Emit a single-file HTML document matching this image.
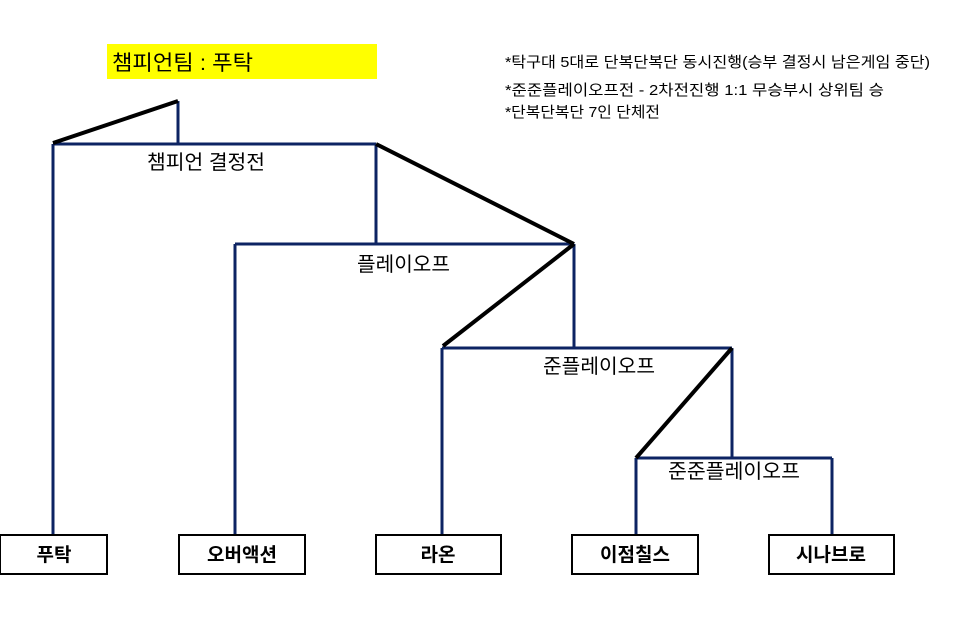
<!DOCTYPE html>
<html><head><meta charset="utf-8"><style>
body{margin:0;background:#fff;width:968px;height:620px;overflow:hidden}
svg{display:block}
text{font-family:"Liberation Sans","Noto Sans CJK KR",sans-serif}
</style></head><body>
<svg width="968" height="620" viewBox="0 0 968 620">
<rect x="107" y="44" width="270" height="35" fill="#ffff00"/>
<text x="112" y="70" font-size="21" fill="#000" textLength="141" lengthAdjust="spacingAndGlyphs">챔피언팀 : 푸탁</text>
<g font-size="15" fill="#000">
<text x="505" y="67" textLength="425" lengthAdjust="spacingAndGlyphs">*탁구대 5대로 단복단복단 동시진행(승부 결정시 남은게임 중단)</text>
<text x="505" y="95" textLength="379" lengthAdjust="spacingAndGlyphs">*준준플레이오프전 - 2차전진행 1:1 무승부시 상위팀 승</text>
<text x="505" y="117" textLength="155" lengthAdjust="spacingAndGlyphs">*단복단복단 7인 단체전</text>
</g>
<g stroke="#0d2463" stroke-width="3" fill="none">
<path d="M53 144H376M53 144V535M178 101V144M376 144V244"/>
<path d="M235 244H574M235 244V535M574 244V348"/>
<path d="M442 348H732M442 348V535M732 348V458"/>
<path d="M636 458H832M636 458V535M832 458V535"/>
</g>
<g stroke="#000" stroke-width="4" fill="none">
<path d="M53 143L178 101M376 144L574 244M574 244L443 346M732 348L636 458"/>
</g>
<g font-size="20" fill="#000">
<text x="147" y="169" textLength="118" lengthAdjust="spacingAndGlyphs">챔피언 결정전</text>
<text x="357" y="271" textLength="93" lengthAdjust="spacingAndGlyphs">플레이오프</text>
<text x="543" y="373" textLength="112" lengthAdjust="spacingAndGlyphs">준플레이오프</text>
<text x="668" y="478" textLength="132" lengthAdjust="spacingAndGlyphs">준준플레이오프</text>
</g>
<g stroke="#000" stroke-width="2" fill="#fff">
<rect x="0" y="535" width="107" height="39"/>
<rect x="179" y="535" width="126" height="39"/>
<rect x="376" y="535" width="125" height="39"/>
<rect x="572" y="535" width="126" height="39"/>
<rect x="769" y="535" width="125" height="39"/>
</g>
<g font-size="19" font-weight="bold" fill="#000" text-anchor="middle">
<text x="54" y="561">푸탁</text>
<text x="242" y="561">오버액션</text>
<text x="438" y="561">라온</text>
<text x="635" y="561">이점칠스</text>
<text x="831" y="561">시나브로</text>
</g>
</svg>
</body></html>
